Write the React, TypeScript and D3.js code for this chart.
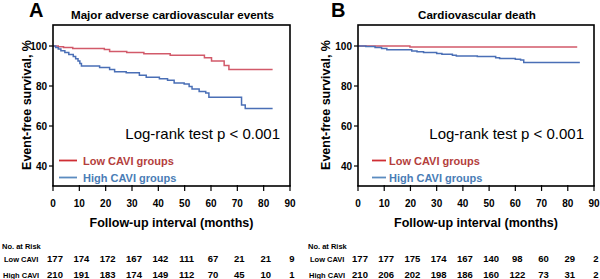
import React from 'react';
import * as d3 from 'd3';

// ---------- data ----------
const monthTicks = [0, 10, 20, 30, 40, 50, 60, 70, 80, 90];
const yTicks = [40, 60, 80, 100];

// Panel A: Major adverse cardiovascular events (step points: month, survival %)
const maceLow: [number, number][] = [
  [0, 100], [2, 99.6], [4, 99.2], [7.5, 98.8], [19.5, 98.2], [21.5, 97.2],
  [28, 96.8], [34.5, 96.1], [44.5, 95.4], [57.5, 94.1], [60.2, 92.5],
  [65, 90.3], [66.8, 88.3], [83.4, 88.3],
];
const maceHigh: [number, number][] = [
  [0, 100], [1, 99.3], [2, 98.5], [3, 97.6], [4.5, 96.8], [6, 95.8],
  [7.7, 94.8], [8.6, 93.6], [9.5, 92.5], [10.2, 91.2], [10.8, 90],
  [17.7, 89.2], [21.5, 88.3], [23.4, 87.1], [27.8, 86.6], [32.8, 85.4],
  [35.4, 84.4], [40.4, 83.6], [43.5, 82.9], [46, 81.5], [49.8, 81.0],
  [51.7, 79.8], [52.8, 78.5], [55.5, 77.3], [58, 76.5], [59.2, 74.4],
  [71.6, 70.5], [73, 68.8], [83.4, 68.8],
];

// Panel B: Cardiovascular death
const cvdLow: [number, number][] = [
  [0, 100], [19.8, 99.5], [83.6, 99.5],
];
const cvdHigh: [number, number][] = [
  [0, 100], [3, 99.7], [6.5, 99.2], [9, 98.7], [11, 98.1], [20.5, 97.5],
  [22.5, 97.1], [25, 96.7], [30, 96.3], [32, 95.9], [36, 95.4], [37.5, 95.0],
  [45.5, 94.7], [52.5, 94.1], [54, 93.7], [60, 93.4], [62, 93.0],
  [63.2, 91.8], [84.6, 91.8],
];

const groupLabels = ['Low CAVI groups', 'High CAVI groups'];
const riskRowLabels = ['Low CAVI', 'High CAVI'];
const maceRiskLow = [177, 174, 172, 167, 142, 111, 67, 21, 21, 9];
const maceRiskHigh = [210, 191, 183, 174, 149, 112, 70, 45, 10, 1];
const cvdRiskLow = [177, 177, 175, 174, 167, 140, 98, 60, 29, 2];
const cvdRiskHigh = [210, 206, 202, 198, 186, 160, 122, 73, 31, 2];

const titles = ['Major adverse cardiovascular events', 'Cardiovascular death'];
const letters = ['A', 'B'];
const pText = 'Log-rank test p < 0.001';

// ---------- style ----------
const RED = '#d25a6a';
const BLUE = '#4a6fb6';
const RED_LEG = '#cf2e34';
const BLUE_LEG = '#5b8cc0';
const RED_TXT = '#b43e3c';
const BLUE_TXT = '#4a7db6';
const FONT = '"Liberation Sans", Arial, sans-serif';

interface PanelProps {
  x0: number; x1: number;
  letter: string; letterX: number;
  title: string;
  low: [number, number][]; high: [number, number][];
  riskLow: number[]; riskHigh: number[];
  legX0: number; legX1: number; legTextX: number;
  ylabX: number; riskLabX: number; noRiskX: number;
}

const TOP = 25, BOTTOM = 186;

function Panel(p: PanelProps) {
  const x = d3.scaleLinear().domain([0, 90]).range([p.x0, p.x1]);
  const y = d3.scaleLinear().domain([30, 110.5]).range([BOTTOM, TOP]);
  const line = d3.line<[number, number]>()
    .x(d => x(d[0])).y(d => y(d[1])).curve(d3.curveStepAfter);
  const cx = (p.x0 + p.x1) / 2;
  return (
    <g fontFamily={FONT}>
      <text x={p.letterX} y={17} fontSize={20} fontWeight="bold">{p.letter}</text>
      <text x={cx + 1} y={19} fontSize={11.6} fontWeight="bold" textAnchor="middle">{p.title}</text>
      <path d={line(p.low) ?? ''} fill="none" stroke={RED} strokeWidth={1.5} />
      <path d={line(p.high) ?? ''} fill="none" stroke={BLUE} strokeWidth={1.5} />
      <rect x={p.x0} y={TOP} width={p.x1 - p.x0} height={BOTTOM - TOP}
        fill="none" stroke="#000" strokeWidth={1.6} />
      {yTicks.map(t => (
        <g key={t}>
          <line x1={p.x0 - 4} x2={p.x0} y1={y(t)} y2={y(t)} stroke="#000" strokeWidth={1.2} />
          <text x={p.x0 - 6} y={y(t) + 3.5} fontSize={10} fontWeight="bold" textAnchor="end">{t}</text>
        </g>
      ))}
      {monthTicks.map(t => (
        <g key={t}>
          <line x1={x(t)} x2={x(t)} y1={BOTTOM - 1} y2={BOTTOM + 5} stroke="#000" strokeWidth={1.2} />
          <text x={x(t)} y={207} fontSize={10} fontWeight="bold" textAnchor="middle">{t}</text>
        </g>
      ))}
      <text transform={`translate(${p.ylabX},105) rotate(-90)`} fontSize={12.5} fontWeight="bold"
        textAnchor="middle" dominantBaseline="middle">Event-free survival, %</text>
      <text x={cx} y={227} fontSize={12.5} fontWeight="bold" textAnchor="middle">Follow-up interval (months)</text>
      <text x={p.x1 - 10} y={139} fontSize={15} textAnchor="end">{pText}</text>
      <line x1={p.legX0} x2={p.legX1} y1={160.5} y2={160.5} stroke={RED_LEG} strokeWidth={1.8} />
      <text x={p.legTextX} y={164.5} fontSize={11} fontWeight="bold" fill={RED_TXT}>{groupLabels[0]}</text>
      <line x1={p.legX0} x2={p.legX1} y1={177.5} y2={177.5} stroke={BLUE_LEG} strokeWidth={1.8} />
      <text x={p.legTextX} y={181.5} fontSize={11} fontWeight="bold" fill={BLUE_TXT}>{groupLabels[1]}</text>
      <text x={p.noRiskX} y={249} fontSize={7.5} fontWeight="bold">No. at Risk</text>
      <text x={p.riskLabX} y={262} fontSize={7.5} fontWeight="bold">{riskRowLabels[0]}</text>
      <text x={p.riskLabX - 1} y={278} fontSize={7.5} fontWeight="bold">{riskRowLabels[1]}</text>
      {p.riskLow.map((v, i) => (
        <text key={'l' + i} x={x(monthTicks[i]) + 2} y={262} fontSize={9.5} fontWeight="bold" textAnchor="middle">{v}</text>
      ))}
      {p.riskHigh.map((v, i) => (
        <text key={'h' + i} x={x(monthTicks[i]) + 2} y={278} fontSize={9.5} fontWeight="bold" textAnchor="middle">{v}</text>
      ))}
    </g>
  );
}

export default function App() {
  return (
    <svg width={600} height={279} viewBox="0 0 600 279"
      style={{ position: 'absolute', left: 0, top: 0, background: '#fff' }}>
      <rect width={600} height={279} fill="#fff" />
      <Panel x0={53} x1={290} letter={letters[0]} letterX={29} title={titles[0]}
        low={maceLow} high={maceHigh} riskLow={maceRiskLow} riskHigh={maceRiskHigh}
        legX0={59} legX1={77} legTextX={83} ylabX={27.5} riskLabX={4} noRiskX={2} />
      <Panel x0={358} x1={594} letter={letters[1]} letterX={331} title={titles[1]}
        low={cvdLow} high={cvdHigh} riskLow={cvdRiskLow} riskHigh={cvdRiskHigh}
        legX0={372} legX1={386} legTextX={389} ylabX={326.7} riskLabX={310} noRiskX={308} />
    </svg>
  );
}
